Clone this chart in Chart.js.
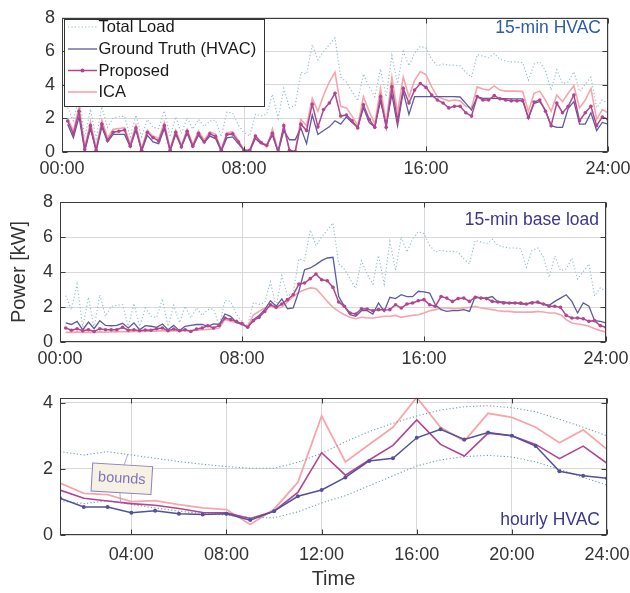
<!DOCTYPE html>
<html><head><meta charset="utf-8">
<script src="https://cdn.jsdelivr.net/npm/chart.js@4.4.1/dist/chart.umd.min.js"></script>
<style>
html,body{margin:0;padding:0;background:#fff;overflow:hidden;}
#wrap{position:relative;width:630px;height:593px;overflow:hidden;background:#fff;}
canvas{position:absolute;left:0;}
</style></head><body>
<div id="wrap">
<canvas id="c1" width="680" height="180" style="top:0px"></canvas>
<canvas id="c2" width="680" height="200" style="top:180px"></canvas>
<canvas id="c3" width="680" height="213" style="top:380px"></canvas>
</div>
<script>
// ---------------- DATA ----------------
const seriesNames = ['Total Load', 'Ground Truth (HVAC)', 'Proposed', 'ICA'];
const panelTitles = ['15-min HVAC', '15-min base load', 'hourly HVAC'];
const annotationText = 'bounds';
const yAxisTitle = 'Power [kW]';
const xAxisTitle = 'Time';

const xTickValues15 = [0, 8, 16, 24];
const xTickLabels15 = ['00:00', '08:00', '16:00', '24:00'];
const xTickValuesHourly = [4, 8, 12, 16, 20, 24];
const xTickLabelsHourly = ['04:00', '08:00', '12:00', '16:00', '20:00', '24:00'];
const yTickValues15 = [0, 2, 4, 6, 8];
const yTickValuesHourly = [0, 2, 4];

// 15-min total load (kW), 00:15 ... 24:00
const totalLoad = [2.65,1.85,3.31,0.85,2.55,0.8,2.7,1.47,2.04,2.1,2.13,0.9,2.2,0.9,1.94,1.47,1.4,2.46,0.9,2.1,1.1,2.04,1.37,1.94,1.52,1.85,1.9,0.9,2.38,2.32,1.6,1.15,
 0.95,2.25,2.15,2.25,3.44,2.0,3.8,2.63,2.78,4.75,4.65,6.4,5.5,6.0,6.4,6.8,4.46,4.17,3.6,3.05,4.65,3.88,3.3,4.95,3.3,5.76,4.08,6.0,5.14,5.9,6.3,6.2,
 5.52,5.14,5.24,5.18,5.18,5.14,4.75,4.46,5.8,5.72,5.62,5.87,5.52,5.43,5.37,5.37,5.33,4.27,5.24,5.37,4.85,3.69,4.91,4.08,4.17,4.79,3.6,4.02,4.46,2.63,3.1,2.9];

// 15-min HVAC
const hvacGT = [1.65,0.85,2.1,0.05,1.4,0.05,1.5,0.6,1.05,1.05,1.05,0.3,1.3,0.05,1.0,0.6,0.5,1.4,0.05,1.05,0.3,1.1,0.3,1.0,0.55,0.95,0.8,0.05,0.85,0.9,0.5,0.1,
 0.05,0.8,0.5,0.4,1.0,0.0,1.28,0.73,0.73,1.43,0.5,2.2,1.04,1.28,1.5,1.86,1.66,2.09,1.76,1.47,2.63,1.76,1.47,3.05,1.57,3.44,1.57,3.6,2.24,3.3,3.3,3.3,
 3.3,3.3,3.3,3.3,3.3,3.28,2.9,2.5,3.3,3.2,3.2,3.2,3.18,3.18,3.17,3.17,3.17,2.0,2.9,3.0,2.5,1.57,1.47,1.47,2.6,3.0,1.66,1.66,2.34,1.28,1.76,1.66];
const hvacProposed = [1.85,1.08,2.43,0.15,1.57,0.1,1.66,0.7,1.18,1.24,1.31,0.35,1.43,0.1,1.18,0.85,0.66,1.57,0.1,1.18,0.3,1.24,0.35,1.12,0.6,1.08,0.93,0.1,1.04,1.08,0.6,0.1,
 0.1,0.95,0.56,0.4,1.12,0.02,1.57,0.1,0.02,1.66,1.28,2.85,1.5,2.53,2.92,3.5,2.14,2.2,1.86,1.43,2.82,1.95,1.47,3.3,1.47,3.88,1.86,3.79,2.92,3.69,4.08,3.85,
 3.4,3.1,2.92,2.63,2.72,2.72,2.34,2.14,3.3,3.1,3.1,3.36,3.17,3.1,3.05,3.05,3.05,2.05,2.98,3.1,2.43,1.57,2.92,2.34,2.72,3.4,1.86,2.34,2.72,1.57,2.09,1.95];
const hvacICA = [2.0,1.25,2.7,0.3,1.8,0.25,1.9,0.85,1.35,1.4,1.45,0.5,1.6,0.2,1.3,0.95,0.8,1.75,0.2,1.3,0.4,1.35,0.45,1.25,0.7,1.2,1.05,0.15,1.15,1.2,0.7,0.1,
 0.0,1.0,0.6,0.3,1.37,0.0,1.47,0.08,0.0,1.95,1.57,3.2,2.43,3.4,4.17,4.75,2.72,2.63,2.14,1.57,3.3,2.43,1.66,3.79,1.76,4.46,2.34,4.46,3.3,4.27,4.8,4.6,
 3.88,3.3,3.17,3.05,3.1,3.05,2.72,2.63,3.88,3.75,3.69,3.94,3.69,3.63,3.63,3.63,3.6,2.43,3.5,3.63,3.1,2.43,3.4,3.0,3.5,3.94,2.63,3.1,3.79,1.95,2.53,2.34];

// 15-min base load
const baseGT = [1.09,1.0,1.18,0.7,1.14,0.76,1.22,0.95,0.93,0.95,1.07,0.8,1.09,0.7,0.93,0.9,0.84,1.03,0.7,0.95,0.65,0.9,0.95,1.0,1.0,0.9,1.03,1.0,1.6,1.47,1.12,1.02,
 0.84,1.28,1.52,1.85,2.36,2.04,2.46,1.9,1.95,2.9,4.13,4.23,4.42,4.65,4.8,4.84,2.6,2.04,1.56,1.47,1.79,1.79,1.6,2.23,1.75,2.55,2.48,2.7,2.59,2.59,2.9,2.86,
 2.8,2.13,1.85,1.75,1.79,1.79,1.85,1.75,2.6,2.51,2.51,2.6,2.29,2.29,2.23,2.23,2.17,2.17,2.29,2.23,2.17,2.1,2.32,2.51,2.7,2.32,1.66,2.23,2.04,1.22,1.18,1.09];
const baseProposed = [0.8,0.67,0.76,0.65,0.7,0.6,0.76,0.7,0.7,0.7,0.84,0.67,0.7,0.65,0.69,0.67,0.76,0.8,0.65,0.74,0.65,0.7,0.6,0.74,0.8,0.93,0.8,0.95,1.37,1.28,1.18,1.05,
 0.84,1.22,1.41,1.75,2.13,1.98,2.17,2.42,2.7,3.31,3.37,3.62,3.89,3.56,3.5,3.12,2.29,2.04,1.66,1.6,1.9,1.89,1.79,1.85,1.83,1.85,2.13,1.94,2.17,2.23,2.36,2.42,
 2.13,2.04,2.6,2.51,2.32,2.48,2.51,2.32,2.55,2.51,2.48,2.32,2.29,2.23,2.23,2.23,2.23,2.17,2.23,2.29,2.17,2.04,2.04,1.98,1.52,1.37,1.37,1.33,1.18,1.22,0.93,0.84];
const baseICA = [0.55,0.55,0.58,0.55,0.56,0.55,0.58,0.56,0.58,0.58,0.6,0.58,0.6,0.6,0.6,0.62,0.62,0.65,0.62,0.65,0.62,0.65,0.65,0.68,0.7,0.72,0.75,0.8,1.28,1.2,1.1,1.0,
 0.88,1.56,1.75,1.94,2.04,1.94,1.98,2.29,2.6,2.84,2.99,3.09,3.05,2.7,2.32,1.98,1.75,1.56,1.41,1.33,1.41,1.37,1.37,1.41,1.47,1.47,1.52,1.41,1.47,1.52,1.56,1.66,
 1.79,1.85,1.94,1.94,1.9,1.9,1.94,1.98,2.04,1.94,1.9,1.85,1.79,1.75,1.75,1.71,1.71,1.71,1.71,1.75,1.71,1.66,1.66,1.56,1.28,1.09,1.03,0.99,0.9,0.76,0.65,0.57];

// hourly HVAC, 01:00 ... 24:00
const hourlyGT = [1.11,0.85,0.85,0.67,0.73,0.64,0.62,0.64,0.45,0.72,1.17,1.36,1.74,2.24,2.32,2.94,3.2,2.89,3.1,3.0,2.69,1.93,1.79,1.72];
const hourlyProposed = [1.36,1.11,1.03,0.95,0.9,0.8,0.68,0.67,0.5,0.72,1.29,2.49,1.81,2.27,2.71,3.48,2.74,2.39,3.08,3.0,2.74,2.31,2.69,2.17];
const hourlyICA = [1.57,1.26,1.22,1.01,1.04,0.92,0.82,0.77,0.32,0.78,1.59,3.6,2.21,2.74,3.26,4.16,3.26,2.84,3.68,3.56,3.26,2.79,3.18,2.59];
const hourlyUpper = [2.52,2.42,2.52,2.42,2.32,2.22,2.14,2.07,2.02,2.02,2.2,2.47,2.82,3.13,3.38,3.6,3.78,3.88,3.91,3.85,3.73,3.5,3.26,3.0];
const hourlyLower = [1.04,0.95,1.04,0.92,0.82,0.72,0.65,0.6,0.53,0.52,0.7,0.97,1.19,1.49,1.79,2.09,2.27,2.37,2.41,2.36,2.21,1.99,1.74,1.51];

// time axes (hours)
const quarterHours = totalLoad.map((_, i) => (i + 1) / 4);
const wholeHours = hourlyGT.map((_, i) => i + 1);

// ---------------- STYLE ----------------
const FONT = '"Liberation Sans", Arial, Helvetica, sans-serif';
const C = {
  total: '#93bccb', bound: '#6f9fb0', gt: '#5c5aa0', prop: '#b2458f', ica: '#f6a6ab',
  grid: '#d8d8d8', frame: '#3c3c3c', text: '#333333'
};
const DOT = [1.2, 2.2];

function pts(xs, ys) { return ys.map((y, i) => ({ x: xs[i], y })); }

function lineDs(xs, ys, color, w, extra) {
  return Object.assign({
    data: pts(xs, ys), borderColor: color, backgroundColor: color, borderWidth: w,
    pointRadius: 0, fill: false, tension: 0
  }, extra || {});
}

function framePlugin(extraDraw) {
  return {
    id: 'frame',
    afterDatasetsDraw(chart) {
      const { ctx, chartArea: a, scales } = chart;
      ctx.save();
      ctx.strokeStyle = C.frame; ctx.lineWidth = 1;
      const L = Math.round(a.left) + 0.5, R = Math.round(a.right) - 0.5,
            T = Math.round(a.top) + 0.5, B = Math.round(a.bottom) - 0.5;
      ctx.strokeRect(L, T, R - L, B - T);
      ctx.beginPath();
      scales.x.ticks.forEach(t => {
        const p = Math.round(scales.x.getPixelForValue(t.value)) + 0.5;
        ctx.moveTo(p, B); ctx.lineTo(p, B - 5);
        ctx.moveTo(p, T); ctx.lineTo(p, T + 5);
      });
      scales.y.ticks.forEach(t => {
        const p = Math.round(scales.y.getPixelForValue(t.value)) + 0.5;
        ctx.moveTo(L, p); ctx.lineTo(L + 5, p);
        ctx.moveTo(R, p); ctx.lineTo(R - 5, p);
      });
      ctx.stroke();
      ctx.restore();
      if (extraDraw) { ctx.save(); extraDraw(chart); ctx.restore(); }
    }
  };
}

function makePanel(id, g, datasets, xs, ys, extraDraw) {
  const xScale = {
    type: 'linear', min: xs.min, max: xs.max,
    afterBuildTicks: s => { s.ticks = xs.vals.map(v => ({ value: v })); },
    afterFit: s => { s.height = g.xh; },
    ticks: {
      autoSkip: false, maxRotation: 0, padding: g.xpad,
      font: { family: FONT, size: 18 }, color: C.text,
      callback: (v, i) => xs.labels[i]
    },
    grid: { color: C.grid, lineWidth: 1, drawTicks: false },
    border: { display: false },
    title: xs.title ? { display: true, text: xs.title, font: { family: FONT, size: 20 }, color: C.text, padding: { top: 0, bottom: 0 } } : { display: false }
  };
  const yScale = {
    type: 'linear', min: ys.min, max: ys.max,
    afterBuildTicks: s => { s.ticks = ys.vals.map(v => ({ value: v })); },
    afterFit: s => { s.width = g.yw; },
    ticks: {
      padding: 7, font: { family: FONT, size: 18 }, color: C.text,
      callback: v => String(v)
    },
    grid: { color: C.grid, lineWidth: 1, drawTicks: false },
    border: { display: false },
    title: ys.title ? { display: true, text: ys.title, font: { family: FONT, size: 20 }, color: C.text, padding: { top: 5, bottom: 0 } } : { display: false }
  };
  return new Chart(document.getElementById(id), {
    type: 'line',
    data: { datasets },
    options: {
      responsive: false, animation: false, devicePixelRatio: 1,
      layout: { padding: { left: g.pl, right: g.pr, top: g.pt, bottom: g.pb } },
      plugins: { legend: { display: false }, tooltip: { enabled: false } },
      scales: { x: xScale, y: yScale }
    },
    plugins: [framePlugin(extraDraw)]
  });
}

function drawTitle(chart, text, color, y) {
  const { ctx, chartArea: a } = chart;
  ctx.font = '17.5px ' + FONT;
  ctx.fillStyle = color; ctx.textAlign = 'right'; ctx.textBaseline = 'middle';
  ctx.fillText(text, a.right - 7, y);
}

// ---------------- PANEL 1 ----------------
makePanel('c1', { pl: 12, pr: 72, pt: 14, pb: 0, xh: 28, yw: 50, xpad: 6 }, [
  lineDs(quarterHours, hvacProposed, C.prop, 1.5, { order: 1, pointRadius: 1.8, pointBorderWidth: 0, pointBackgroundColor: C.prop }),
  lineDs(quarterHours, hvacGT, C.gt, 1.3, { order: 2 }),
  lineDs(quarterHours, totalLoad, C.total, 1.1, { order: 3, borderDash: DOT }),
  lineDs(quarterHours, hvacICA, C.ica, 1.6, { order: 4 })
], { min: 0, max: 24, vals: xTickValues15, labels: xTickLabels15 },
   { min: 0, max: 8, vals: yTickValues15 },
   chart => {
     const { ctx, chartArea: a } = chart;
     const bx = Math.round(a.left) + 2.5, by = Math.round(a.top) + 1.5, bw = 200, bh = 87;
     ctx.fillStyle = '#fff'; ctx.fillRect(bx, by, bw, bh);
     ctx.strokeStyle = '#333'; ctx.lineWidth = 1; ctx.strokeRect(bx, by, bw, bh);
     const styles = [
       { c: C.total, w: 1.1, dash: DOT },
       { c: C.gt, w: 1.3 },
       { c: C.prop, w: 1.5, dot: true },
       { c: C.ica, w: 1.6 }
     ];
     const rowY = [27, 49, 70.5, 92];
     ctx.font = '16.5px ' + FONT; ctx.textBaseline = 'middle'; ctx.textAlign = 'left';
     seriesNames.forEach((name, i) => {
       const s = styles[i], y = rowY[i];
       ctx.beginPath(); ctx.strokeStyle = s.c; ctx.lineWidth = s.w;
       ctx.setLineDash(s.dash || []);
       ctx.moveTo(bx + 3.5, y); ctx.lineTo(bx + 32.5, y); ctx.stroke();
       ctx.setLineDash([]);
       if (s.dot) { ctx.beginPath(); ctx.fillStyle = s.c; ctx.arc(bx + 18, y, 2, 0, Math.PI * 2); ctx.fill(); }
       ctx.fillStyle = '#1a1a1a'; ctx.fillText(name, bx + 34, y + 0.5);
     });
     drawTitle(chart, panelTitles[0], '#2d5cab', 28.5);
   });

// ---------------- PANEL 2 ----------------
makePanel('c2', { pl: 2, pr: 74, pt: 22, pb: 10, xh: 28, yw: 58, xpad: 6 }, [
  lineDs(quarterHours, baseProposed, C.prop, 1.5, { order: 1, pointRadius: 1.8, pointBorderWidth: 0, pointBackgroundColor: C.prop }),
  lineDs(quarterHours, baseGT, C.gt, 1.3, { order: 2 }),
  lineDs(quarterHours, totalLoad, C.total, 1.1, { order: 3, borderDash: DOT }),
  lineDs(quarterHours, baseICA, C.ica, 1.6, { order: 4 })
], { min: 0, max: 24, vals: xTickValues15, labels: xTickLabels15 },
   { min: 0, max: 8, vals: yTickValues15, title: yAxisTitle },
   chart => { drawTitle(chart, panelTitles[1], '#3c3592', 40.5); });

// ---------------- PANEL 3 ----------------
makePanel('c3', { pl: 10, pr: 73, pt: 16, pb: 2, xh: 56, yw: 50, xpad: 9 }, [
  lineDs(wholeHours, hourlyGT, '#52519a', 1.5, { order: 1, pointRadius: 2, pointBorderWidth: 0, pointBackgroundColor: '#52519a' }),
  lineDs(wholeHours, hourlyProposed, C.prop, 1.6, { order: 2 }),
  lineDs(wholeHours, hourlyUpper, C.bound, 1.1, { order: 3, borderDash: DOT }),
  lineDs(wholeHours, hourlyLower, C.bound, 1.1, { order: 3, borderDash: DOT }),
  lineDs(wholeHours, hourlyICA, C.ica, 1.8, { order: 4 })
], { min: 1, max: 24, vals: xTickValuesHourly, labels: xTickLabelsHourly, title: xAxisTitle },
   { min: 0, max: 4.15, vals: yTickValuesHourly },
   chart => {
     const { ctx, scales } = chart;
     drawTitle(chart, panelTitles[2], '#3c3592', 140.5);
     // "bounds" annotation anchored in data space
     const cx = scales.x.getPixelForValue(3.6), cy = scales.y.getPixelForValue(1.7);
     const ux = scales.x.getPixelForValue(3.85), uy = scales.y.getPixelForValue(2.44);
     const lx = scales.x.getPixelForValue(3.55), ly = scales.y.getPixelForValue(0.96);
     ctx.strokeStyle = '#9a8fcc'; ctx.lineWidth = 0.8;
     ctx.beginPath(); ctx.moveTo(cx + 2, cy - 13); ctx.lineTo(ux, uy); ctx.stroke();
     ctx.beginPath(); ctx.moveTo(cx - 2, cy + 13); ctx.lineTo(lx, ly); ctx.stroke();
     ctx.translate(cx, cy); ctx.rotate(0.06);
     ctx.fillStyle = '#f6f1e3'; ctx.fillRect(-30, -14, 60, 28);
     ctx.strokeStyle = '#8b7fc4'; ctx.lineWidth = 1; ctx.strokeRect(-30, -14, 60, 28);
     ctx.fillStyle = '#7d72bb'; ctx.font = '14.5px ' + FONT;
     ctx.textAlign = 'center'; ctx.textBaseline = 'middle';
     ctx.fillText(annotationText, 0, 0);
   });
</script>
</body></html>
